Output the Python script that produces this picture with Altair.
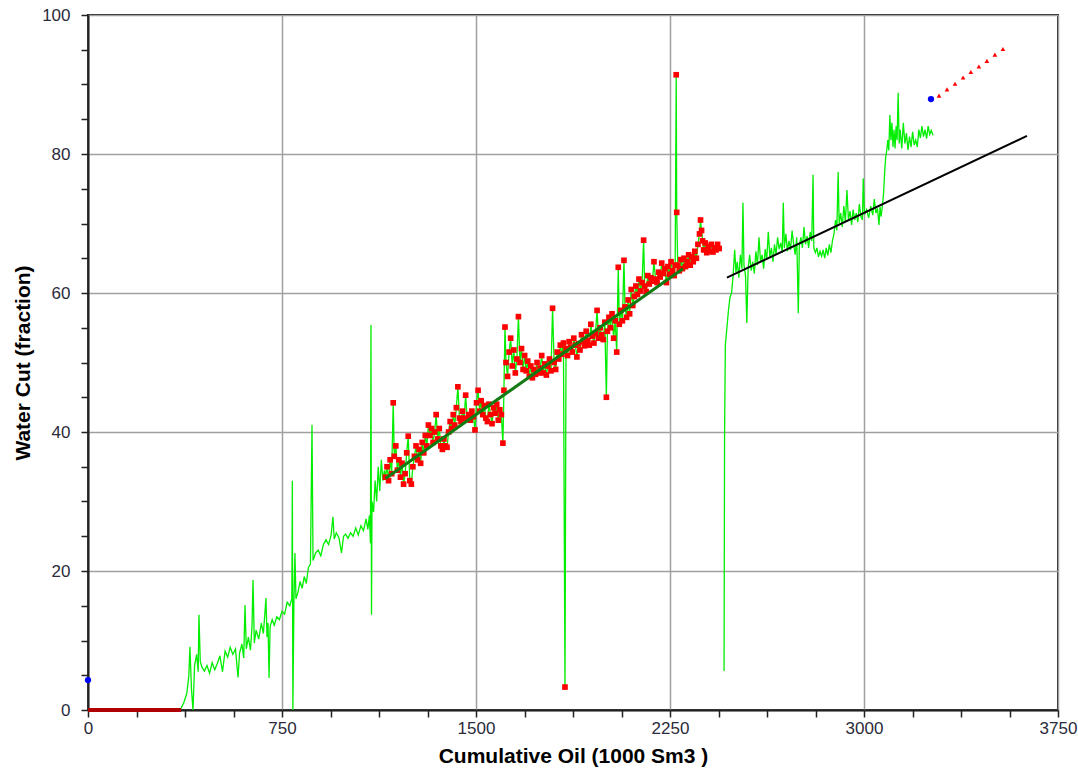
import altair as alt
import pandas as pd

# ---- green (measured water cut) before the red-point section: (cum oil, water cut)
early_pts = [
    (356, 0), (370, 1), (382, 2.4), (390, 5), (394, 9.1), (400, 3), (406, 0), (412, 6.4),
    (420, 8), (426, 5.5), (429, 13.7), (434, 7), (440, 6.2), (450, 5.6), (460, 6.4),
    (470, 5.3), (480, 6.8), (490, 5.8), (500, 6.7), (510, 7.8), (520, 5.5), (530, 8.5),
    (540, 7.6), (550, 9), (560, 8), (570, 8.8), (580, 4.7), (586, 8.2), (595, 9.5),
    (602, 7.5), (607, 15.1), (612, 8.8), (620, 10.5), (628, 8.6), (634, 12), (638, 18.7),
    (643, 9.6), (650, 11.5), (660, 10.2), (670, 12.5), (678, 11), (684, 14), (688, 16.1),
    (692, 10.5), (696, 12.5), (700, 4.6), (704, 12), (712, 13), (720, 12.2), (730, 13.4),
    (740, 13), (750, 14.2), (760, 13.8), (770, 15.5), (780, 15), (788, 16), (790, 33),
    (792, 0), (796, 15.2), (800, 22.6), (804, 16), (812, 17), (820, 18.5), (828, 17.5),
    (836, 19.2), (844, 18.2), (852, 20.5), (860, 21), (866, 41), (870, 21.5), (880, 22.6),
    (890, 23), (900, 22.2), (910, 23.8), (920, 24.5), (930, 23.8), (940, 25.2), (947, 27.8),
    (952, 24.6), (960, 25.5), (970, 24.8), (980, 22.6), (988, 25), (996, 25.3), (1005, 24.7),
    (1015, 25.5), (1025, 25), (1035, 26.2), (1045, 25.2), (1055, 26.5), (1065, 25.8),
    (1075, 27.5), (1082, 26), (1088, 28), (1092, 24), (1094, 55.4), (1096, 13.7),
    (1098, 30), (1104, 28.5), (1110, 33), (1116, 30), (1122, 35), (1128, 31.5),
    (1134, 36), (1140, 33), (1146, 34.5),
]

# ---- section with red markers (green line joins them)
red_pts = [
    (1150, 33.5), (1156, 35), (1162, 33), (1168, 36), (1174, 34), (1180, 44.2), (1184, 36.5),
    (1190, 38), (1196, 34.5), (1202, 36), (1208, 33.5), (1214, 35.5), (1220, 32.5), (1226, 34),
    (1232, 37), (1238, 39.4), (1244, 33), (1250, 32.5), (1256, 35), (1262, 36.5), (1268, 38),
    (1274, 36), (1280, 37.5), (1286, 35.5), (1292, 38.5), (1298, 37), (1304, 39.5), (1310, 38),
    (1316, 41), (1322, 39.5), (1328, 40.5), (1334, 38.5), (1340, 40), (1346, 42.5), (1352, 39),
    (1358, 40.5), (1364, 38), (1370, 37.5), (1376, 39), (1382, 38), (1388, 37.8), (1394, 40),
    (1400, 41.5), (1406, 40.5), (1412, 42.5), (1418, 41), (1424, 43.5), (1430, 46.5),
    (1436, 42), (1442, 41.5), (1448, 43), (1454, 42), (1460, 45.3), (1466, 41.8), (1472, 42.5),
    (1478, 41.7), (1484, 43), (1490, 42.2), (1496, 40.3), (1502, 44.2), (1508, 46), (1514, 43),
    (1520, 44.5), (1526, 42.5), (1532, 43.8), (1538, 42), (1544, 41.5), (1550, 44),
    (1556, 42.5), (1562, 41.2), (1568, 43.5), (1574, 42.7), (1580, 44), (1586, 41.7),
    (1592, 43.2), (1598, 42.5), (1604, 38.4), (1608, 46), (1612, 55.1), (1616, 50),
    (1622, 48), (1628, 51.5), (1634, 53.5), (1640, 49.5), (1646, 51.8), (1652, 48.5),
    (1658, 50.5), (1664, 56.6), (1670, 50), (1676, 52), (1682, 49), (1688, 51), (1694, 48.8),
    (1700, 50.2), (1706, 48), (1712, 49.5), (1718, 47.8), (1724, 49), (1730, 48.3), (1736, 50),
    (1742, 48.5), (1748, 49.2), (1754, 51), (1760, 48.5), (1766, 49.8), (1772, 48.2),
    (1778, 49.5), (1784, 50.5), (1790, 48.8), (1796, 57.8), (1802, 50), (1808, 49),
    (1814, 51.5), (1820, 50.5), (1826, 52.5), (1832, 51.2), (1838, 52.8), (1844, 3.3),
    (1848, 52), (1854, 51), (1860, 53), (1866, 52.2), (1872, 51.5), (1878, 53.5), (1884, 52.5),
    (1890, 50.8), (1896, 52.7), (1902, 51.8), (1908, 54), (1914, 53), (1920, 52.4),
    (1926, 54.5), (1932, 53.2), (1938, 52.5), (1944, 55.5), (1950, 53.8), (1956, 52.8),
    (1962, 54.2), (1968, 57.5), (1974, 53.5), (1980, 55), (1986, 54), (1992, 53.3),
    (1998, 55.8), (2004, 45), (2008, 54.5), (2014, 56.5), (2020, 55), (2026, 57), (2032, 53.5),
    (2038, 56), (2044, 51.5), (2050, 63.7), (2054, 55.5), (2060, 57.5), (2066, 56),
    (2072, 64.7), (2076, 58), (2082, 56.5), (2088, 59), (2094, 57), (2100, 60.5), (2106, 58.2),
    (2112, 59.5), (2118, 61), (2124, 59.8), (2130, 62), (2136, 60.3), (2142, 61.5),
    (2148, 67.6), (2152, 61), (2158, 60.2), (2164, 62.5), (2170, 61.3), (2176, 62.2),
    (2182, 61.7), (2188, 64.5), (2194, 62), (2200, 61.5), (2206, 63), (2212, 62.3),
    (2218, 64.3), (2224, 62.8), (2230, 63.5), (2236, 61.5), (2242, 63.8), (2248, 62.7),
    (2254, 64.5), (2260, 63.2), (2266, 62.5), (2270, 64), (2274, 91.4), (2276, 71.6),
    (2280, 64), (2286, 63.2), (2292, 64.8), (2298, 63.5), (2304, 65), (2310, 63.8),
    (2316, 64.5), (2322, 65.5), (2328, 64), (2334, 65.2), (2340, 64.5), (2346, 66), (2352, 65),
    (2358, 67), (2364, 68.5), (2368, 70.5), (2372, 69), (2376, 67.5), (2380, 66.2),
    (2386, 67.2), (2392, 65.8), (2398, 66.7), (2404, 66), (2410, 67), (2416, 65.9),
    (2422, 66.5), (2428, 66.2), (2434, 67), (2440, 66.4),
]

# ---- green after the gap
late_pts = [
    (2459, 5.6), (2461, 40), (2464, 52.5), (2470, 55), (2476, 57.5), (2482, 59.4), (2488, 60),
    (2494, 62.5), (2500, 66.2), (2505, 63), (2510, 64.5), (2516, 62.2), (2522, 65.5),
    (2528, 63.5), (2532, 73), (2536, 64), (2542, 62.5), (2547, 55.7), (2552, 63.5),
    (2558, 65.5), (2564, 63.2), (2570, 64.5), (2576, 62.8), (2582, 66), (2588, 64), (2594, 68),
    (2600, 64.5), (2606, 65.5), (2612, 63.5), (2618, 66.3), (2624, 64.8), (2630, 68.8),
    (2636, 65.2), (2642, 66.5), (2648, 64.5), (2654, 67), (2660, 65.5), (2666, 68),
    (2672, 66.3), (2678, 67.2), (2684, 65.8), (2688, 73), (2692, 66.5), (2698, 68.5),
    (2704, 66), (2710, 67.5), (2716, 66.2), (2722, 69), (2728, 67), (2734, 65.5), (2740, 68),
    (2746, 57.1), (2750, 66.8), (2756, 68), (2762, 66.5), (2768, 69.5), (2774, 67),
    (2780, 68.2), (2786, 66.5), (2792, 68.8), (2798, 67.5), (2803, 77), (2806, 66.5),
    (2812, 65.8), (2818, 66.5), (2824, 65.2), (2830, 66), (2836, 65.3), (2842, 66.2),
    (2848, 65), (2854, 66.5), (2860, 65.4), (2866, 67), (2872, 65.8), (2878, 67.5),
    (2884, 68.5), (2890, 70.5), (2895, 69), (2900, 77.4), (2904, 70), (2910, 71.5),
    (2916, 69.5), (2922, 72.5), (2928, 70.2), (2934, 74.8), (2940, 70.5), (2946, 71.8),
    (2952, 69.8), (2958, 72), (2964, 70.5), (2970, 71.5), (2976, 70.2), (2982, 72.8),
    (2988, 71), (2994, 70.5), (2997, 76.5), (3002, 71.3), (3010, 72), (3018, 70.8),
    (3026, 72.5), (3034, 71.2), (3040, 73.5), (3046, 71.5), (3052, 72.2), (3058, 69.8),
    (3062, 72.4), (3066, 71), (3072, 72.8), (3076, 74.5), (3080, 77.5), (3084, 79.6),
    (3088, 80.5), (3092, 82), (3096, 80.5), (3100, 85.6), (3104, 82), (3108, 84.5),
    (3112, 81), (3116, 83.5), (3120, 80.8), (3124, 84), (3128, 82), (3132, 88.8),
    (3136, 81.5), (3140, 83.5), (3146, 80.8), (3152, 84.5), (3158, 81.5), (3164, 83),
    (3170, 80.6), (3176, 82.5), (3182, 81), (3188, 83.2), (3194, 81.3), (3200, 82),
    (3206, 81), (3212, 83.5), (3218, 82.3), (3224, 84), (3230, 82.5), (3236, 83.5),
    (3242, 82.2), (3248, 84), (3254, 82.8), (3260, 83.4), (3267, 82.7),
]

fit_x = [1150, 2300]
fit_y = [33.3, 63.5]
trend_x = [2470, 3630]
trend_y = [62.2, 82.6]
zero_x = [0, 360]
zero_y = [0, 0]
blue_x = [0, 3259]
blue_y = [4.3, 87.9]
fcst_x = [3290, 3321, 3352, 3383, 3413, 3444, 3475, 3506, 3537]
fcst_y = [88.4, 89.3, 90.1, 91.0, 91.8, 92.6, 93.4, 94.3, 95.1]

x_ticks = [i * 187.5 for i in range(21)]
y_ticks = list(range(0, 101, 5))

rows = []
for seg, pts in (("a", early_pts + red_pts), ("b", late_pts)):
    for i, (x, y) in enumerate(pts):
        rows.append({"x": x, "y": y, "seg": seg, "i": i})
green_df = pd.DataFrame(rows)
red_df = pd.DataFrame(red_pts, columns=["x", "y"])

xs = alt.Scale(domain=[0, 3750], nice=False, zero=False)
ys = alt.Scale(domain=[0, 100], nice=False, zero=False)

label_color = "#2b2b3b"
common = dict(
    labelFont="Liberation Sans", labelFontSize=17, labelColor=label_color,
    titleFont="Liberation Sans", titleFontSize=21, titleFontWeight="bold", titleColor="black",
    labelFlush=False, labelOverlap=False,
    tickColor="#222222", tickWidth=1.5, tickSize=7,
    domainColor="#222222", domainWidth=2,
    grid=True, gridColor="#a0a0a0", gridWidth=1.5,
)
x_axis = alt.Axis(
    values=x_ticks, title="Cumulative Oil (1000 Sm3 )",
    labelExpr="datum.value % 750 === 0 ? datum.label : ''",
    format="d", titlePadding=9, labelPadding=3,
    gridOpacity={"condition": {"test": "datum.value % 750 === 0", "value": 1}, "value": 0},
    **common,
)
y_axis = alt.Axis(
    values=y_ticks, title="Water Cut (fraction)",
    labelExpr="datum.value % 20 === 0 ? datum.label : ''",
    titlePadding=8, labelPadding=11,
    gridOpacity={"condition": {"test": "datum.value % 20 === 0", "value": 1}, "value": 0},
    **common,
)

X = lambda: alt.X("x:Q", scale=xs, axis=x_axis)
Y = lambda: alt.Y("y:Q", scale=ys, axis=y_axis)

green = alt.Chart(green_df).mark_line(color="#00ee00", strokeWidth=1.3).encode(
    x=X(), y=Y(), detail="seg:N", order="i:Q")
red = alt.Chart(red_df).mark_square(color="#ff0000", size=32, opacity=1).encode(x=X(), y=Y())
fit = alt.Chart(pd.DataFrame({"x": fit_x, "y": fit_y})).mark_line(
    color="#127a12", strokeWidth=3).encode(x=X(), y=Y())
trend = alt.Chart(pd.DataFrame({"x": trend_x, "y": trend_y})).mark_line(
    color="black", strokeWidth=2).encode(x=X(), y=Y())
zero = alt.Chart(pd.DataFrame({"x": zero_x, "y": zero_y})).mark_line(
    color="#b00000", strokeWidth=4).encode(x=X(), y=Y())
blue = alt.Chart(pd.DataFrame({"x": blue_x, "y": blue_y})).mark_point(
    shape="circle", filled=True, color="#0000ff", size=40, opacity=1).encode(x=X(), y=Y())
fcst = alt.Chart(pd.DataFrame({"x": fcst_x, "y": fcst_y})).mark_point(
    shape="triangle-up", filled=True, color="#ff0000", size=22, opacity=1).encode(x=X(), y=Y())

chart = alt.layer(green, red, fit, trend, zero, blue, fcst).properties(
    width=970, height=695,
    autosize=alt.AutoSizeParams(type="none"),
    padding={"left": 88, "top": 15, "right": 20, "bottom": 64},
    background="white",
).configure_view(stroke="#222222", strokeWidth=2)

chart.save("out.html", embed_options={"renderer": "svg", "actions": False})
